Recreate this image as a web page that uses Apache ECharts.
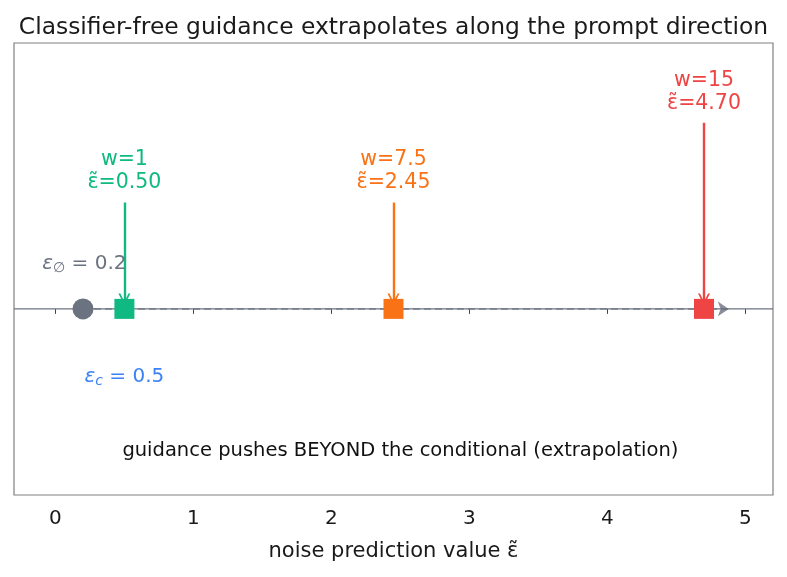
<!DOCTYPE html>
<html>
<head>
<meta charset="utf-8">
<script src="https://cdn.jsdelivr.net/npm/echarts@6/dist/echarts.min.js"></script>
<style>html,body{margin:0;padding:0;background:#fff}#c{width:787px;height:577px}</style>
</head>
<body>
<div id="c"></div>
<script>
// ---- data ----
const guidanceScales = ['1', '7.5', '15'];
const guidedValues = [0.50, 2.45, 4.70];
const uncondValue = 0.2;
const condValue = 0.5;
const xTickValues = [0, 1, 2, 3, 4, 5];
const extrapolationEnd = 4.88;

// ---- styling / layout ----
const seriesColors = ['#10b981', '#f97316', '#ef4444'];
const gray = '#6b7280';
const blue = '#3b82f6';
const labelHeights = [0.4, 0.4, 0.7];
const arrowTipY = 0.035;
const FONT = 'DejaVu Sans';
const chevron = 'path://M0,10 L5,0 L10,10 L8.4,10 L5,3.2 L1.6,10 Z';

const chart = echarts.init(document.getElementById('c'), null, {renderer: 'canvas'});

const arrowData = guidedValues.map((v, i) => ({
  coords: [[v, labelHeights[i]], [v, arrowTipY]],
  lineStyle: {color: seriesColors[i], width: 2.4, type: 'solid', opacity: 1}
}));

const labelData = guidedValues.map((v, i) => ({
  value: [v, labelHeights[i]],
  label: {
    show: true, position: 'top', distance: 8,
    formatter: 'w=' + guidanceScales[i] + '\n\u03b5\u0303=' + v.toFixed(2),
    color: seriesColors[i], fontFamily: FONT, fontSize: 20.5, lineHeight: 23, align: 'center'
  }
}));

const option = {
  animation: false,
  backgroundColor: '#fff',
  title: {
    text: 'Classifier-free guidance extrapolates along the prompt direction',
    left: 'center', top: 11,
    textStyle: {fontFamily: FONT, fontSize: 23.4, fontWeight: 'normal', color: '#1a1a1a'}
  },
  grid: {left: 14, right: 14, top: 43, bottom: 82, show: true, borderColor: '#808080', borderWidth: 1.2, backgroundColor: 'transparent'},
  xAxis: {
    type: 'value', min: -0.3, max: 5.2,
    name: 'noise prediction value \u03b5\u0303', nameLocation: 'middle', nameGap: 46,
    nameTextStyle: {fontFamily: FONT, fontSize: 21, color: '#1a1a1a'},
    axisLine: {show: false},
    splitLine: {show: false},
    axisTick: {show: true, length: 5, inside: false, customValues: xTickValues, lineStyle: {color: '#444', width: 1}},
    axisLabel: {customValues: xTickValues, fontFamily: FONT, fontSize: 20, color: '#1a1a1a', margin: 14}
  },
  yAxis: {type: 'value', min: -0.7, max: 1.0, show: false, splitLine: {show: false}},
  series: [
    { // baseline axhline
      type: 'line', data: [[-0.3, 0], [5.2, 0]], symbol: 'none',
      lineStyle: {color: gray, width: 1.3}, z: 1, silent: true
    },
    { // extrapolation dashed arrow
      type: 'lines', coordinateSystem: 'cartesian2d', z: 2,
      symbol: ['none', 'arrow'], symbolSize: [0, 11],
      data: [{coords: [[uncondValue, 0], [extrapolationEnd, 0]]}],
      lineStyle: {color: gray, width: 1.7, type: [7, 4], opacity: 0.8}
    },
    { // unconditional
      type: 'scatter', data: [[uncondValue, 0]], symbol: 'circle', symbolSize: 21,
      itemStyle: {color: gray, opacity: 1}, z: 3
    },
    { // conditional
      type: 'scatter', data: [[condValue, 0]], symbol: 'circle', symbolSize: 17,
      itemStyle: {color: blue, opacity: 1}, z: 3
    },
    { // guided results
      type: 'scatter', symbol: 'rect', symbolSize: 20, z: 4,
      itemStyle: {opacity: 1},
      data: guidedValues.map((v, i) => ({value: [v, 0], itemStyle: {color: seriesColors[i], opacity: 1}}))
    },
    { // annotation arrows
      type: 'lines', coordinateSystem: 'cartesian2d', z: 5,
      symbol: ['none', chevron], symbolSize: [0, 12],
      data: arrowData
    },
    { // annotation labels
      type: 'scatter', symbolSize: 0, z: 6, data: labelData, silent: true,
      itemStyle: {opacity: 1}
    },
    { // text labels
      type: 'scatter', symbolSize: 0, z: 6, silent: true,
      itemStyle: {opacity: 1},
      data: [
        {value: [uncondValue + 0.01, 0.17], label: {show: true, position: 'inside',
          formatter: '{e|\u03b5}{s|\u2205}{n| = ' + uncondValue + '}',
          rich: {e: {fontFamily: FONT, fontStyle: 'italic', fontSize: 20, color: gray},
                 s: {fontFamily: FONT, fontStyle: 'italic', fontSize: 14, color: gray, verticalAlign: 'bottom', padding: [10, 0, 0, 0]},
                 n: {fontFamily: FONT, fontSize: 20, color: gray}}}},
        {value: [condValue, -0.255], label: {show: true, position: 'inside',
          formatter: '{e|\u03b5}{s|c}{n| = ' + condValue + '}',
          rich: {e: {fontFamily: FONT, fontStyle: 'italic', fontSize: 20, color: blue},
                 s: {fontFamily: FONT, fontStyle: 'italic', fontSize: 14, color: blue, verticalAlign: 'bottom', padding: [10, 0, 0, 0]},
                 n: {fontFamily: FONT, fontSize: 20, color: blue}}}},
        {value: [2.5, -0.535], label: {show: true, position: 'inside',
          formatter: 'guidance pushes BEYOND the conditional (extrapolation)',
          fontFamily: FONT, fontSize: 19.5, color: '#111'}}
      ]
    }
  ]
};
chart.setOption(option);
</script>
</body>
</html>
